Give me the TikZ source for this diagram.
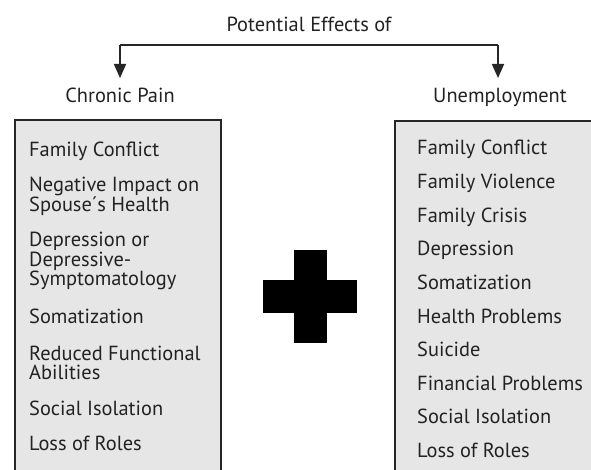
\documentclass[tikz,border=0pt]{standalone}
\usepackage{fontspec}
\setmainfont{PT Sans}
\usetikzlibrary{arrows.meta}
\definecolor{boxfill}{HTML}{E6E6E6}
\definecolor{ink}{HTML}{222222}
\newcommand{\stacked}[1]{\vtop{\baselineskip=19.3pt\halign{##\hfil\cr#1\crcr}}}
\tikzset{
  item/.style={anchor=base west, inner sep=0pt, text=ink,
    font=\fontsize{20.4}{19.3}\selectfont},
  head/.style={anchor=base, inner sep=0pt, text=ink, font=\fontsize{20.4}{19.3}\selectfont},
  panel/.style={draw=black!85, line width=1.8pt, fill=boxfill},
  conn/.style={draw=black!85, line width=1.6pt, -{Triangle[length=14pt,width=12pt]}},
}
\begin{document}
\begin{tikzpicture}[x=1pt,y=-1pt]
\useasboundingbox (0,0) rectangle (591,470);
\clip (0,0) rectangle (591,470);
\fill[white] (0,0) rectangle (591,470);
% title and headings
\node[head] (title) at (309,32) {Potential Effects of};
\node[head] (chronic) at (120,103) {Chronic Pain};
\node[head] (unemp) at (500,103) {Unemployment};
\coordinate (tl) at (120,45);
\coordinate (tr) at (498,45);
\coordinate (al) at (120,78);
\coordinate (ar) at (498,78);
\draw[draw=black!85, line width=1.6pt] (tl) -- (tr);
\draw[conn] (tl) -- (al);
\draw[conn] (tr) -- (ar);
% boxes
\path[panel] (15,480) -- (15,120) -- (221,120) -- (221,480);
\path[panel] (395,480) -- (395,121) -- (610,121) -- (610,480);
% left items
\node[item] (l1) at (29,157) {Family Conflict};
\node[item] (l2) at (29,192) {\stacked{Negative Impact on\cr Spouse´s Health}};
\node[item] (l3) at (29,247) {\stacked{Depression or\cr Depressive-\cr Symptomatology}};
\node[item] (l4) at (29,323) {Somatization};
\node[item] (l5) at (29,360) {\stacked{Reduced Functional\cr Abilities}};
\node[item] (l6) at (29,415) {Social Isolation};
\node[item] (l7) at (29,450) {Loss of Roles};
% right items
\foreach \t [count=\i from 0] in {Family Conflict,Family Violence,Family Crisis,Depression,Somatization,Health Problems,Suicide,Financial Problems,Social Isolation,Loss of Roles}
  \node[item] (r\i) at (417,155+33.6*\i) {\t};
% plus sign
\fill[black] (294,250) rectangle (327,343);
\fill[black] (263,280) rectangle (357,313);
\end{tikzpicture}
\end{document}
